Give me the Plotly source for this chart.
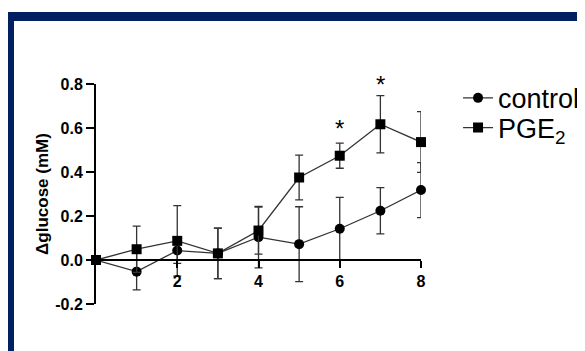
import plotly.graph_objects as go

time_points = [0, 1, 2, 3, 4, 5, 6, 7, 8]
control_mean = [0, -0.053, 0.043, 0.030, 0.104, 0.072, 0.142, 0.224, 0.318]
control_err = [0, 0.083, 0.058, 0.115, 0.140, 0.170, 0.143, 0.105, 0.125]
pge2_mean = [0, 0.049, 0.087, 0.030, 0.134, 0.375, 0.474, 0.617, 0.536]
pge2_err = [0, 0.105, 0.160, 0.115, 0.107, 0.102, 0.057, 0.130, 0.138]
sig_x = [6, 7]
sig_y = [0.598, 0.798]
y_ticks = [-0.2, 0.0, 0.2, 0.4, 0.6, 0.8]
x_ticks = [2, 4, 6, 8]
y_range = [-0.2, 0.8]
x_range = [0, 8]

FONT = "Liberation Sans, Arial, sans-serif"
NAVY = "#002060"

fig = go.Figure()
fig.add_trace(go.Scatter(
    x=time_points, y=control_mean, name="control", mode="lines+markers",
    line=dict(color="#333333", width=1.3),
    marker=dict(symbol="circle", size=10, color="black"),
    error_y=dict(type="data", array=control_err, visible=True, color="#333333", thickness=1.3, width=4),
    cliponaxis=False, legend="legend",
))
fig.add_trace(go.Scatter(
    x=time_points, y=pge2_mean, name="PGE<sub>2</sub>", mode="lines+markers",
    line=dict(color="#333333", width=1.3),
    marker=dict(symbol="square", size=10, color="black"),
    error_y=dict(type="data", array=pge2_err, visible=True, color="#333333", thickness=1.3, width=4),
    cliponaxis=False, legend="legend2",
))

# significance asterisks (y converted to paper fraction so points above the range still show)
for xs, ys in zip(sig_x, sig_y):
    fig.add_annotation(x=xs, xref="x", yref="paper",
                       y=(ys - y_range[0]) / (y_range[1] - y_range[0]),
                       text="*", showarrow=False,
                       font=dict(family=FONT, size=24, color="black"),
                       xanchor="center", yanchor="middle")

# navy frame (top and left bars)
fig.add_shape(type="rect", xref="paper", yref="paper",
              x0=-0.277, x1=1.6, y0=1.286, y1=1.327,
              fillcolor=NAVY, line=dict(width=0), layer="above")
fig.add_shape(type="rect", xref="paper", yref="paper",
              x0=-0.277, x1=-0.2523, y0=-0.3, y1=1.327,
              fillcolor=NAVY, line=dict(width=0), layer="above")

legend_common = dict(x=1.114, xanchor="left", yanchor="middle",
                     font=dict(family=FONT, size=27, color="black"),
                     bgcolor="rgba(0,0,0,0)", borderwidth=0, itemwidth=30)

fig.update_layout(
    width=585, height=351,
    margin=dict(l=88, r=172, t=76, b=55, autoexpand=False),
    paper_bgcolor="white", plot_bgcolor="white",
    font=dict(family=FONT, color="black"),
    showlegend=True,
    legend=dict(y=0.935, **legend_common),
    legend2=dict(y=0.80, **legend_common),
    xaxis=dict(range=x_range, anchor="free", position=0.2, automargin=False,
               tickvals=x_ticks, ticktext=[str(v) for v in x_ticks],
               showline=True, linecolor="black", linewidth=2,
               ticks="outside", tickwidth=2, ticklen=7, tickcolor="black",
               showgrid=False, zeroline=False,
               tickfont=dict(family=FONT, size=16, color="black", weight="bold")),
    yaxis=dict(range=y_range, tickvals=y_ticks, automargin=False,
               ticktext=[f"{v:.1f}" for v in y_ticks],
               showline=True, linecolor="black", linewidth=2,
               ticks="outside", tickwidth=2, ticklen=8, tickcolor="black",
               showgrid=False, zeroline=False, ticklabelstandoff=0,
               tickfont=dict(family=FONT, size=16, color="black", weight="bold"),
               title=dict(text="Δglucose (mM)", standoff=2,
                          font=dict(family=FONT, size=17, color="black", weight="bold"))),
)

fig.write_html("out.html")
